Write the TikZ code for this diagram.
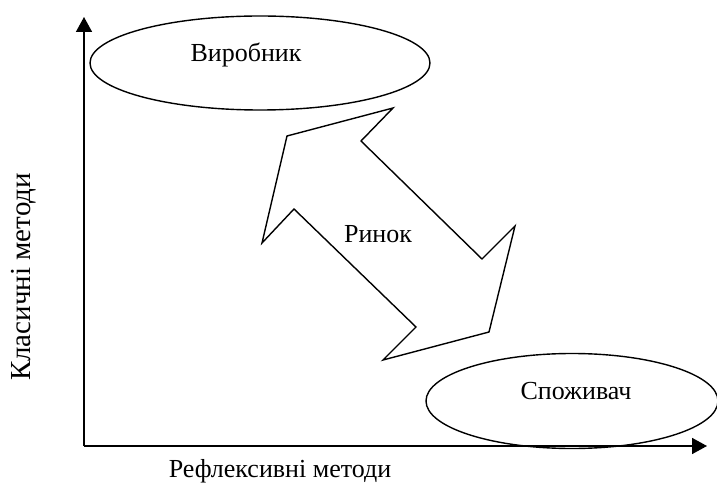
\documentclass[tikz,border=0pt]{standalone}
\usepackage{fontspec}
\setmainfont{Liberation Serif}
\usepackage{tikz}
\usetikzlibrary{positioning,arrows.meta,shapes.geometric}

\begin{document}
\begin{tikzpicture}[
    x=1pt, y=-1pt,
    every node/.style={font=\fontsize{26}{30}\selectfont},
    oval/.style={draw, ellipse, line width=1.4pt, inner sep=0pt},
    axis/.style={-{Triangle[length=15pt,width=16pt]}, line width=1.6pt},
    dblarrow/.style={draw, line width=1.4pt, line join=miter}
]
\useasboundingbox (0,0) rectangle (717,486);

% axes
\coordinate (o) at (84,446);
\coordinate (ytip) at (84,17);
\coordinate (xtip) at (707,446);
\draw[axis] (o) -- (ytip);
\draw[axis] (o) -- (xtip);

\node[rotate=90, font=\fontsize{29}{33}\selectfont] (ylab) at (24,277) {Класичні методи};
\node (xlab) at (280,471) {Рефлексивні методи};

% producer and consumer
\node[oval, minimum width=340pt, minimum height=94pt] (prod) at (260,63) {};
\node (prodlab) at (246,55) {Виробник};
\node[oval, minimum width=292pt, minimum height=95pt] (cons) at (572,401) {};
\node (conslab) at (576,391) {Споживач};

% double arrow
\draw[dblarrow] (393,108) -- (361,141) -- (482,259) -- (515,226) -- (489,332)
    -- (383,360) -- (416,327) -- (294,209) -- (262,243) -- (287,136) -- cycle;
\node (market) at (378,234) {Ринок};
\end{tikzpicture}
\end{document}
